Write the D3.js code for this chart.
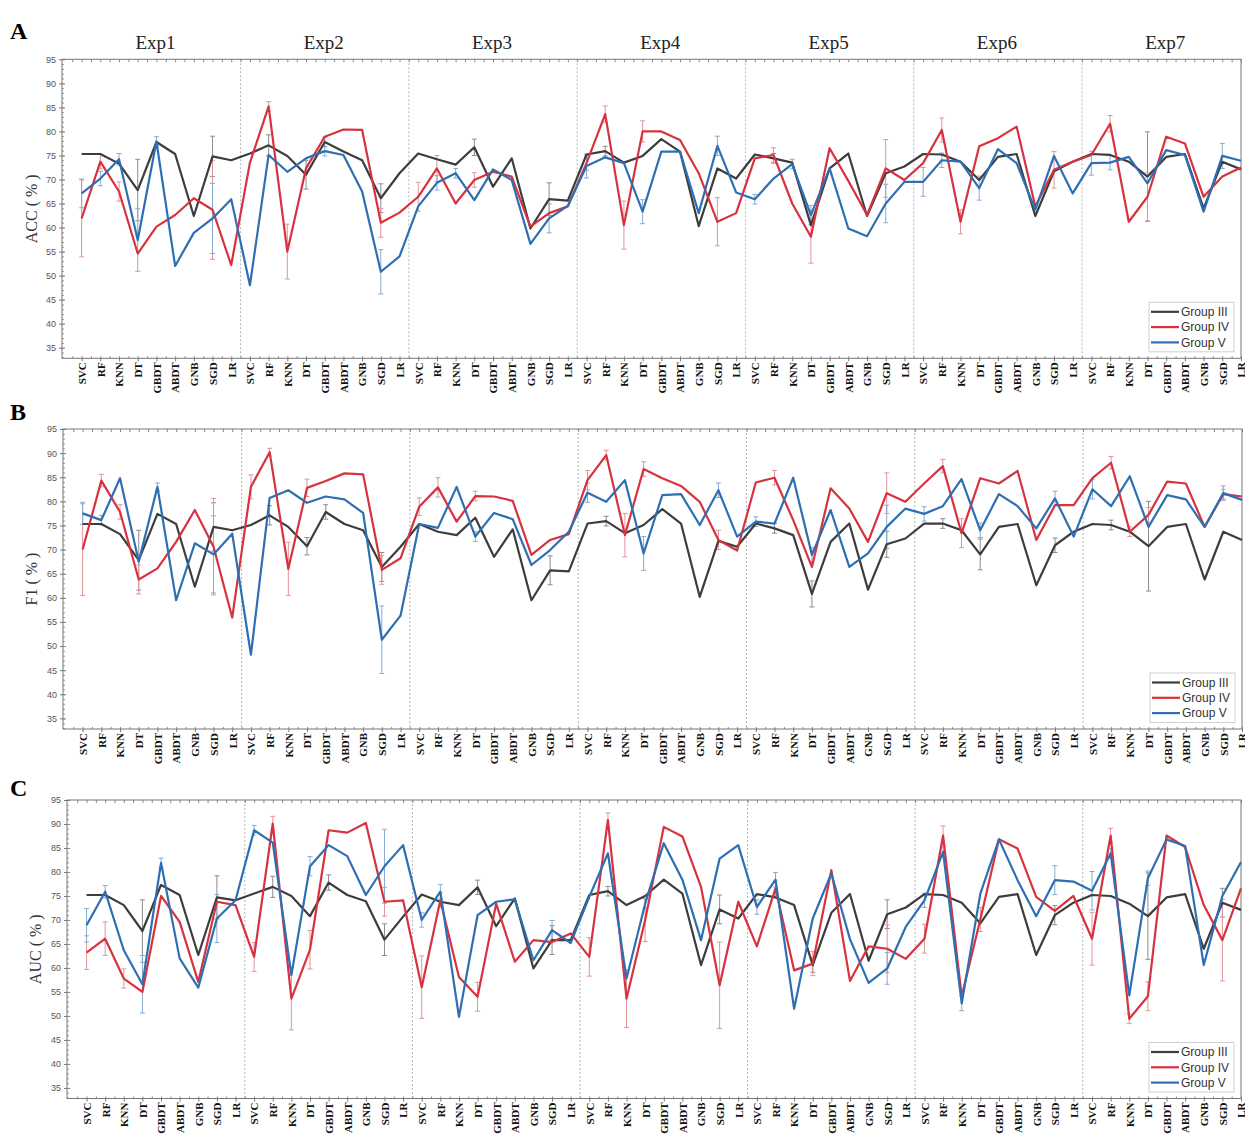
<!DOCTYPE html>
<html>
<head>
<meta charset="utf-8">
<script src="https://cdn.jsdelivr.net/npm/d3@7"></script>
<style>
  body { margin: 0; background: #fff; }
  svg { display: block; }
</style>
</head>
<body>
<div id="chart"></div>
<script>
const classifiers = ["SVC", "RF", "KNN", "DT", "GBDT", "ABDT", "GNB", "SGD", "LR"];
const experiments = ["Exp1", "Exp2", "Exp3", "Exp4", "Exp5", "Exp6", "Exp7"];
const groups = ["Group III", "Group IV", "Group V"];
const yTicks = [35, 40, 45, 50, 55, 60, 65, 70, 75, 80, 85, 90, 95];

// ACC, 9 classifiers per experiment
const accIII = [75.3, 75.3, 73.3, 67.8, 77.8, 75.3, 62.4, 74.8, 74.0,
  75.4, 77.1, 74.9, 71.0, 77.8, 75.8, 74.0, 66.1, 71.3,
  75.4, 74.2, 73.1, 76.7, 68.5, 74.4, 59.8, 65.9, 65.6,
  75.2, 75.9, 73.5, 74.9, 78.4, 75.8, 60.3, 72.3, 70.2,
  75.2, 74.4, 73.5, 60.5, 72.3, 75.4, 62.4, 71.3, 72.7,
  75.3, 75.2, 73.7, 69.9, 74.7, 75.3, 62.4, 71.7, 73.7,
  75.3, 75.1, 73.7, 70.6, 74.7, 75.3, 64.0, 73.7, 72.1];
const accIV = [61.9, 73.7, 67.5, 54.6, 60.2, 62.6, 66.1, 63.7, 52.2,
  73.5, 85.2, 55.0, 72.3, 78.9, 80.4, 80.3, 61.0, 63.1,
  66.4, 72.3, 65.0, 69.9, 71.6, 70.6, 60.2, 63.0, 64.4,
  73.4, 83.6, 60.5, 80.0, 80.0, 78.2, 71.3, 61.2, 63.0,
  74.4, 75.1, 65.0, 58.1, 76.5, 69.7, 62.6, 72.3, 69.9,
  73.4, 80.3, 61.2, 76.9, 78.6, 81.0, 64.4, 72.0, 73.7,
  75.1, 81.6, 61.2, 66.4, 78.9, 77.5, 66.4, 70.6, 72.5];
const accV = [67.1, 70.2, 74.2, 57.4, 77.9, 52.0, 58.9, 61.9, 65.9,
  48.0, 75.1, 71.6, 74.4, 75.9, 75.1, 67.5, 50.8, 54.0,
  64.4, 69.3, 71.3, 65.7, 72.1, 69.9, 56.6, 61.9, 64.5,
  72.8, 74.6, 73.4, 63.3, 75.8, 75.8, 63.0, 77.0, 67.3,
  65.9, 70.2, 73.2, 62.6, 72.3, 59.8, 58.2, 65.0, 69.5,
  69.5, 74.0, 73.7, 68.2, 76.3, 73.4, 63.7, 74.9, 67.1,
  73.4, 73.5, 74.7, 69.2, 76.1, 75.1, 63.3, 74.9, 73.9];

// F1
const f1III = [75.3, 75.3, 73.2, 67.8, 77.4, 75.3, 62.3, 74.7, 74.0,
  75.1, 77.1, 74.7, 70.7, 77.8, 75.3, 74.0, 66.4, 70.6,
  75.3, 73.7, 73.0, 76.6, 68.5, 74.2, 59.5, 65.7, 65.5,
  75.4, 75.9, 73.4, 75.1, 78.4, 75.4, 60.2, 71.8, 70.6,
  75.4, 74.4, 73.0, 60.8, 71.6, 75.4, 61.7, 71.1, 72.3,
  75.4, 75.4, 74.0, 69.0, 74.7, 75.3, 62.6, 70.9, 73.7,
  75.3, 75.1, 73.7, 70.7, 74.7, 75.3, 63.8, 73.7, 72.0];
const f1IV = [70.0, 84.3, 77.8, 63.8, 66.1, 71.6, 78.2, 70.6, 55.9,
  83.0, 90.2, 66.0, 82.8, 84.2, 85.8, 85.6, 65.8, 68.2,
  78.9, 82.9, 75.8, 81.1, 81.0, 80.1, 68.9, 72.0, 73.2,
  84.4, 89.6, 73.0, 86.7, 84.8, 83.2, 79.9, 72.0, 69.8,
  83.9, 84.9, 76.1, 66.4, 82.7, 78.5, 71.6, 81.7, 79.9,
  83.7, 87.3, 73.4, 84.8, 83.7, 86.3, 72.0, 79.2, 79.2,
  84.8, 88.0, 73.7, 77.2, 84.1, 83.7, 74.7, 81.5, 81.0];
const f1V = [77.5, 76.1, 84.8, 67.5, 83.0, 59.5, 71.3, 69.0, 73.3,
  48.2, 80.7, 82.3, 79.7, 81.0, 80.4, 77.6, 51.3, 56.3,
  75.3, 74.5, 83.0, 72.7, 77.6, 76.3, 66.8, 69.9, 73.7,
  81.8, 79.9, 84.4, 69.2, 81.3, 81.5, 75.1, 82.3, 72.7,
  75.8, 75.4, 84.9, 68.9, 78.2, 66.4, 69.2, 74.7, 78.5,
  77.4, 79.0, 84.6, 74.0, 81.5, 79.0, 74.4, 80.6, 72.7,
  82.5, 79.0, 85.2, 74.7, 81.3, 80.4, 74.7, 81.7, 80.3];

// AUC
const aucIII = [75.2, 75.2, 73.1, 67.7, 77.3, 75.2, 62.7, 74.7, 74.1,
  75.5, 76.9, 75.0, 70.8, 77.8, 75.2, 73.9, 65.9, 70.7,
  75.3, 73.8, 73.1, 76.8, 68.7, 74.5, 59.9, 65.8, 65.8,
  75.2, 76.0, 73.1, 75.0, 78.4, 75.5, 60.6, 72.2, 70.3,
  75.4, 74.7, 73.1, 60.6, 71.5, 75.4, 61.5, 71.2, 72.6,
  75.4, 75.2, 73.6, 69.3, 74.8, 75.4, 62.7, 71.0, 73.6,
  75.2, 75.0, 73.4, 70.8, 74.7, 75.4, 64.0, 73.6, 72.1];
const aucIV = [63.2, 66.1, 57.8, 55.0, 75.0, 69.6, 57.1, 73.8, 73.1,
  62.3, 90.1, 53.6, 63.8, 88.7, 88.2, 90.2, 73.8, 74.1,
  56.0, 74.1, 58.1, 54.0, 73.4, 61.3, 65.8, 65.4, 67.2,
  62.3, 90.8, 53.6, 70.0, 89.4, 87.4, 76.9, 56.4, 73.8,
  64.5, 76.6, 59.5, 60.9, 80.4, 57.3, 64.5, 64.0, 61.9,
  66.1, 87.6, 54.1, 70.1, 86.8, 84.9, 74.8, 71.9, 75.0,
  66.1, 87.6, 49.4, 54.1, 87.6, 85.2, 73.1, 65.8, 76.6];
const aucV = [68.9, 75.9, 63.7, 56.6, 81.9, 62.0, 55.9, 70.3, 74.1,
  88.7, 86.1, 58.5, 81.2, 85.6, 83.3, 75.2, 81.2, 85.6,
  70.0, 75.9, 49.8, 71.0, 73.8, 74.3, 61.6, 67.9, 65.2,
  74.8, 83.9, 57.8, 73.4, 86.0, 78.4, 65.8, 82.8, 85.6,
  72.7, 78.4, 51.5, 70.3, 79.7, 66.0, 56.9, 59.9, 68.6,
  74.1, 84.2, 52.6, 75.5, 86.8, 78.3, 70.8, 78.3, 78.0,
  76.1, 83.9, 54.3, 78.7, 86.8, 85.4, 60.6, 75.0, 82.1];

// error bars: [point index (0-based), half width]
const accErrIII = [[3, 6.4], [7, 4.2], [10, 2.2], [12, 3], [13, 1], [16, 3], [21, 1.7], [25, 3.4], [28, 1], [37, 1], [57, 9.3]];
const accErrIV = [[0, 8], [1, 1.5], [2, 2], [7, 10.3], [10, 1], [11, 5.7], [16, 3], [18, 3], [19, 2.7], [21, 1.5], [27, 1.5], [28, 1.7], [29, 5], [30, 2.2], [34, 5], [37, 1.5], [39, 5.5], [43, 6], [46, 2.5], [47, 2.5], [52, 3.8], [55, 1.7], [57, 5]];
const accErrV = [[0, 3], [1, 1.5], [2, 1.2], [3, 6.5], [4, 1], [7, 7.3], [13, 1], [16, 4.6], [19, 1.5], [20, 1], [25, 3], [27, 2.5], [30, 2.5], [34, 2], [36, 1], [38, 1], [39, 2], [43, 4], [45, 3], [46, 1.5], [48, 2.5], [54, 2.5], [55, 1.5], [61, 2.6]];
const f1ErrIII = [[3, 6.2], [7, 5], [10, 2], [12, 1.8], [13, 1.5], [16, 3], [25, 3], [28, 1], [37, 1], [39, 2.7], [43, 2.7], [46, 1], [48, 3.2], [52, 1.5], [55, 1], [57, 9.3]];
const f1ErrIV = [[0, 9.5], [1, 1.3], [2, 1.5], [3, 3], [7, 10], [9, 2.5], [10, 0.8], [11, 5.5], [12, 1.8], [16, 3], [18, 1.8], [19, 2], [21, 1], [27, 2], [28, 1], [29, 4.5], [30, 1.5], [34, 2], [37, 1.5], [43, 4.2], [46, 1.4], [47, 3], [55, 1.3], [56, 1], [57, 1.5], [61, 1]];
const f1ErrV = [[0, 2.3], [1, 1], [4, 0.8], [7, 8], [16, 7], [21, 1], [27, 2], [30, 3.5], [34, 1.5], [36, 1], [39, 1.5], [43, 4.5], [45, 1.5], [48, 1.5], [52, 1.5], [54, 2], [61, 1.5]];
const aucErrIII = [[3, 6.5], [7, 4.5], [10, 2.2], [13, 1.6], [16, 3.3], [21, 1.5], [25, 3], [28, 1], [34, 3], [39, 1.5], [43, 3], [52, 2], [57, 9], [61, 3]];
const aucErrIV = [[0, 3.5], [1, 3.5], [2, 2], [9, 3], [10, 1.5], [11, 6.5], [12, 4], [16, 3], [18, 6.5], [19, 1.5], [21, 3], [27, 4], [28, 1.5], [29, 6], [30, 4.5], [34, 9], [37, 1.5], [39, 2.5], [43, 5], [45, 3], [46, 2], [48, 2.5], [54, 5.5], [55, 1.5], [56, 1], [57, 3], [61, 8.5]];
const aucErrV = [[0, 3.5], [1, 1.3], [3, 6], [4, 1], [7, 5], [9, 1], [12, 2], [16, 7.7], [18, 1.5], [19, 1.5], [25, 2], [30, 1], [36, 1.5], [37, 1.5], [43, 3.3], [45, 1.5], [46, 1], [47, 1.5], [52, 3], [54, 4], [55, 1], [57, 1.5]];

const lineColors = ["#3d3d3d", "#d8323f", "#2e6fb3"];
const errColors = ["#8c8c8c", "#e4939a", "#86abd4"];

const panels = [
  { letter: "A", label: "ACC ( % )", series: [accIII, accIV, accV], errs: [accErrIII, accErrIV, accErrV],
    left: 62, right: 1241, top: 59.3, bottom: 358.3, letterY: 39, labelX: 37, showExp: true },
  { letter: "B", label: "F1 ( % )", series: [f1III, f1IV, f1V], errs: [f1ErrIII, f1ErrIV, f1ErrV],
    left: 63, right: 1242, top: 429, bottom: 729, letterY: 420, labelX: 37, showExp: false },
  { letter: "C", label: "AUC ( % )", series: [aucIII, aucIV, aucV], errs: [aucErrIII, aucErrIV, aucErrV],
    left: 67, right: 1241, top: 800, bottom: 1098.5, letterY: 796, labelX: 41, showExp: false }
];

const svg = d3.select("#chart").append("svg")
  .attr("width", 1245)
  .attr("height", 1145);

const nPoints = classifiers.length * experiments.length;

function drawPanel(p) {
  const x = d3.scaleLinear().domain([-0.05, nPoints]).range([p.left, p.right]);
  const y = d3.scaleLinear().domain([32.8, 95]).range([p.bottom, p.top]);
  const g = svg.append("g");

  // panel letter
  svg.append("text")
    .attr("x", 10).attr("y", p.letterY)
    .style("font-family", "Liberation Serif, Times New Roman, serif")
    .style("font-weight", "bold").style("font-size", "24px")
    .text(p.letter);

  if (p.showExp) {
    experiments.forEach((e, i) => {
      svg.append("text")
        .attr("x", (x(i * 9 + 0.5) + x(i * 9 + 9.5)) / 2 - 1)
        .attr("y", 49)
        .attr("text-anchor", "middle")
        .style("font-family", "Liberation Serif, Times New Roman, serif")
        .style("font-size", "19px").style("fill", "#222")
        .text(e);
    });
  }

  // experiment separators
  g.selectAll(".sep").data(d3.range(1, experiments.length)).enter()
    .append("line")
    .attr("x1", d => x(d * 9 + 0.5)).attr("x2", d => x(d * 9 + 0.5))
    .attr("y1", p.top).attr("y2", p.bottom)
    .style("stroke", "#b5b5b5").style("stroke-width", 1)
    .style("stroke-dasharray", "2,2");

  // left axis: labels + outward ticks
  const yAxisG = g.append("g").attr("transform", `translate(${p.left},0)`)
    .call(d3.axisLeft(y).tickValues(yTicks).tickSize(3).tickPadding(3));
  yAxisG.select(".domain").remove();
  yAxisG.selectAll("line").style("stroke", "#777");
  yAxisG.selectAll("text")
    .style("font-family", "Liberation Sans, Arial, sans-serif")
    .style("font-size", "9px").style("fill", "#555");
  g.append("g").attr("transform", `translate(${p.left},0)`)
    .call(d3.axisRight(y).tickValues(yTicks).tickSize(3).tickFormat(""))
    .call(a => a.select(".domain").remove())
    .selectAll("line").style("stroke", "#777");
  g.append("g").attr("transform", `translate(${p.left},0)`)
    .call(d3.axisRight(y).tickValues(d3.range(33, 95)).tickSize(2).tickFormat(""))
    .call(a => a.select(".domain").remove())
    .selectAll("line").style("stroke", "#999");

  // top ticks
  g.append("g").attr("transform", `translate(0,${p.top})`)
    .call(d3.axisBottom(x).tickValues(d3.range(0.5, nPoints + 0.1, 0.5)).tickSize(3).tickFormat(""))
    .call(a => a.select(".domain").remove())
    .selectAll("line").style("stroke", "#888");

  // bottom axis with classifier labels
  const xAxisG = g.append("g").attr("transform", `translate(0,${p.bottom})`)
    .call(d3.axisBottom(x).tickValues(d3.range(1, nPoints + 1)).tickSize(3)
      .tickFormat(d => classifiers[(d - 1) % classifiers.length]));
  xAxisG.select(".domain").remove();
  xAxisG.selectAll("line").style("stroke", "#777");
  xAxisG.selectAll("text")
    .attr("transform", "rotate(-90)")
    .attr("x", -4).attr("y", 0).attr("dy", "0.35em")
    .attr("text-anchor", "end")
    .style("font-family", "Liberation Serif, Times New Roman, serif")
    .style("font-weight", "bold").style("font-size", "11px").style("fill", "#111");
  g.append("g").attr("transform", `translate(0,${p.bottom})`)
    .call(d3.axisTop(x).tickValues(d3.range(0.5, nPoints + 0.1, 0.5)).tickSize(2).tickFormat(""))
    .call(a => a.select(".domain").remove())
    .selectAll("line").style("stroke", "#888");

  // frame
  g.append("rect")
    .attr("x", p.left).attr("y", p.top)
    .attr("width", p.right - p.left).attr("height", p.bottom - p.top)
    .style("fill", "none").style("stroke", "#777").style("stroke-width", 1);

  // y label
  svg.append("text")
    .attr("transform", `translate(${p.labelX},${(p.top + p.bottom) / 2}) rotate(-90)`)
    .attr("text-anchor", "middle")
    .style("font-family", "Liberation Serif, Times New Roman, serif")
    .style("font-size", "16px").style("fill", "#333")
    .text(p.label);

  // error bars
  p.errs.forEach((errs, si) => {
    const vals = p.series[si];
    const eg = g.append("g").style("stroke", errColors[si]).style("stroke-width", 1);
    errs.forEach(([k, e]) => {
      const cx = x(k + 1);
      const v = vals[k];
      eg.append("line").attr("x1", cx).attr("x2", cx).attr("y1", y(v - e)).attr("y2", y(v + e));
      eg.append("line").attr("x1", cx - 2.5).attr("x2", cx + 2.5).attr("y1", y(v - e)).attr("y2", y(v - e));
      eg.append("line").attr("x1", cx - 2.5).attr("x2", cx + 2.5).attr("y1", y(v + e)).attr("y2", y(v + e));
    });
  });

  // lines
  const line = d3.line().x((d, i) => x(i + 1)).y(d => y(d));
  p.series.forEach((vals, si) => {
    g.append("path").datum(vals)
      .attr("d", line)
      .style("fill", "none")
      .style("stroke", lineColors[si])
      .style("stroke-width", 2.2)
      .style("stroke-linejoin", "round");
  });

  // legend
  const lx = p.right - 92, ly = p.bottom - 56;
  const lg = g.append("g").attr("transform", `translate(${lx},${ly})`);
  lg.append("rect").attr("width", 85).attr("height", 49.5)
    .style("fill", "#fff").style("stroke", "#cfcfcf");
  groups.forEach((name, i) => {
    const ry = 9.5 + i * 15.3;
    lg.append("line").attr("x1", 2).attr("x2", 30).attr("y1", ry).attr("y2", ry)
      .style("stroke", lineColors[i]).style("stroke-width", 2.2);
    lg.append("text").attr("x", 32).attr("y", ry).attr("dy", "0.35em")
      .style("font-family", "Liberation Sans, Arial, sans-serif")
      .style("font-size", "12px").style("fill", "#333")
      .text(name);
  });
}

panels.forEach(drawPanel);
</script>
</body>
</html>
